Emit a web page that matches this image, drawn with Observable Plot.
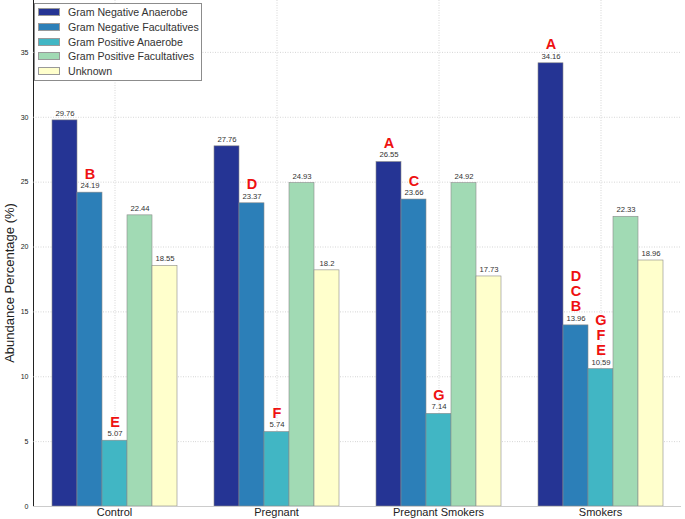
<!DOCTYPE html>
<html>
<head>
<meta charset="utf-8">
<script src="https://cdn.jsdelivr.net/npm/d3@7"></script>
<script src="https://cdn.jsdelivr.net/npm/@observablehq/plot@0.6"></script>
<style>
  body { margin: 0; background: #fff; font-family: "Liberation Sans", Arial, sans-serif; }
  #wrap { position: relative; width: 685px; height: 519px; }
  #legend { position: absolute; left: 34px; top: 3px; width: 168px; height: 78px; border: 1px solid #8c8c8c; background: #fff; box-sizing: border-box; padding: 1px 0 0 3px; }
  .item { display: flex; align-items: center; height: 14.7px; font-size: 10.6px; color: #333; white-space: nowrap; }
  .sw { width: 22px; height: 8px; margin-right: 8px; border: 0.5px solid #999; box-sizing: border-box; flex: none; }
  #ylabel { position: absolute; left: 9px; top: 283px; transform: translate(-50%, -50%) rotate(-90deg); font-size: 13px; color: #222; white-space: nowrap; }
</style>
</head>
<body>
<div id="wrap"><div id="chart"></div><div id="legend"></div><div id="ylabel">Abundance Percentage (%)</div></div>
<script>
const groups = ["Control", "Pregnant", "Pregnant Smokers", "Smokers"];
const series = ["Gram Negative Anaerobe", "Gram Negative Facultatives", "Gram Positive Anaerobe", "Gram Positive Facultatives", "Unknown"];
const colors = ["#253494", "#2c7fb8", "#41b6c4", "#a1dab4", "#ffffcc"];

const gramNegativeAnaerobe = [29.76, 27.76, 26.55, 34.16];
const gramNegativeFacultatives = [24.19, 23.37, 23.66, 13.96];
const gramPositiveAnaerobe = [5.07, 5.74, 7.14, 10.59];
const gramPositiveFacultatives = [22.44, 24.93, 24.92, 22.33];
const unknown = [18.55, 18.2, 17.73, 18.96];

const lettersGNA = ["", "", "A", "A"];
const lettersGNF = ["B", "D", "C", "D\nC\nB"];
const lettersGPA = ["E", "F", "G", "G\nF\nE"];
const lettersGPF = ["", "", "", ""];
const lettersUnk = ["", "", "", ""];

const yTicks = [0, 5, 10, 15, 20, 25, 30, 35];

const valuesBySeries = [gramNegativeAnaerobe, gramNegativeFacultatives, gramPositiveAnaerobe, gramPositiveFacultatives, unknown];
const lettersBySeries = [lettersGNA, lettersGNF, lettersGPA, lettersGPF, lettersUnk];

const rows = [];
series.forEach((s, i) => groups.forEach((g, j) => {
  rows.push({group: g, series: s, value: valuesBySeries[i][j], letter: lettersBySeries[i][j]});
}));
const centers = groups.map(g => ({group: g, series: series[2]}));

const chart = Plot.plot({
  width: 685,
  height: 519,
  marginLeft: 32,
  marginRight: 3,
  marginTop: 0,
  marginBottom: 13,
  style: {fontFamily: "'Liberation Sans', Arial, sans-serif", background: "#fff", fontSize: "11px", color: "#222"},
  fx: {domain: groups, padding: 0, label: null, tickSize: 0, tickPadding: 2, axis: "bottom"},
  x: {domain: series, axis: null, paddingInner: 0, paddingOuter: 0.62},
  y: {domain: [0, 39], ticks: yTicks, tickSize: 0, tickPadding: 5, label: null, line: true},
  color: {domain: series, range: colors},
  marks: [
    Plot.ruleY(yTicks.filter(d => d > 0), {stroke: "#c4c4c4", strokeDasharray: "1,1.5", strokeWidth: 0.7}),
    Plot.ruleX(centers, {x: "series", fx: "group", stroke: "#c4c4c4", strokeDasharray: "1,1.5", strokeWidth: 0.7}),
    Plot.barY(rows, {x: "series", fx: "group", y: "value", fill: "series", stroke: "#8a8a8a", strokeWidth: 0.6, inset: 0}),
    Plot.text(rows, {x: "series", fx: "group", y: "value", text: d => String(d.value), dy: -7, fontSize: 7.7, fill: "#333"}),
    Plot.text(rows.filter(d => d.letter), {x: "series", fx: "group", y: "value", text: "letter", lineAnchor: "bottom", dy: -14, fontSize: 14.5, fontWeight: "bold", fill: "#ee1111", lineHeight: 1.04}),
    Plot.ruleY([0], {stroke: "#ccc"})
  ]
});
chart.querySelectorAll('[aria-label="y-axis tick label"] text, [aria-label="y-axis tick label"]').forEach(n => n.setAttribute("font-size", "7"));
chart.querySelectorAll('[aria-label="y-axis"] text').forEach(n => n.setAttribute("font-size", "7"));
document.getElementById("chart").appendChild(chart);

const legend = document.getElementById("legend");
series.forEach((s, i) => {
  const it = document.createElement("div");
  it.className = "item";
  const sw = document.createElement("span");
  sw.className = "sw";
  sw.style.background = colors[i];
  const t = document.createElement("span");
  t.textContent = s;
  it.appendChild(sw);
  it.appendChild(t);
  legend.appendChild(it);
});
</script>
</body>
</html>
